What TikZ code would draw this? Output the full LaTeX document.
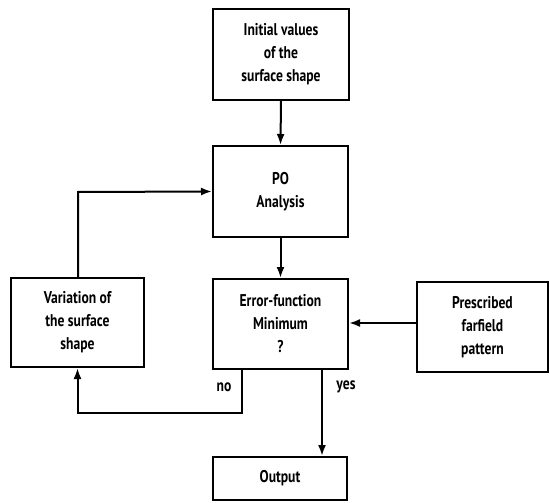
\documentclass[tikz,border=0pt]{standalone}
\usepackage{fontspec}
\setmainfont{PT Sans}[FakeStretch=0.8]
\usetikzlibrary{arrows.meta}
\begin{document}
\begin{tikzpicture}[x=1pt,y=-1pt,
  box/.style={draw, line width=2pt, inner sep=0pt, align=center, font=\fontsize{17}{23}\selectfont\bfseries},
  conn/.style={line width=2pt, -{Latex[length=11pt,width=8pt]}},
  lbl/.style={font=\fontsize{17}{20}\selectfont\bfseries}]
\useasboundingbox (0,0) rectangle (550,503);
\node[box, minimum width=136pt, minimum height=91pt] (init) at (281,54.5) {Initial values\\of the\\surface shape};
\node[box, minimum width=135pt, minimum height=91pt] (po) at (280.5,191.5) {PO\\Analysis};
\node[box, minimum width=133pt, minimum height=89pt] (var) at (77.5,322.5) {Variation of\\the surface\\shape};
\node[box, minimum width=135pt, minimum height=90pt] (err) at (280.5,324) {Error-function\\Minimum\\?};
\node[box, minimum width=131pt, minimum height=90pt] (pres) at (482.5,327) {Prescribed\\farfield\\pattern};
\node[box, minimum width=134pt, minimum height=43pt] (out) at (280,478.5) {Output};
\coordinate (noc) at (242,413);
\coordinate (fbc) at (78,192);
\draw[conn] (init.south) -- (po.north);
\draw[conn] (po.south) -- (err.north);
\draw[conn] (err.south -| noc) -- (noc) -- (noc -| var.south) -- (var.south);
\draw[conn] (var.north -| fbc) -- (fbc) -- (po.west);
\draw[conn] (pres.west |- 0,323) -- (err.east |- 0,323);
\draw[conn] (err.south -| 322,0) -- (out.north -| 322,0);
\node[lbl] (no) at (224,387) {no};
\node[lbl] (yes) at (346,387) {yes};
\end{tikzpicture}
\end{document}
